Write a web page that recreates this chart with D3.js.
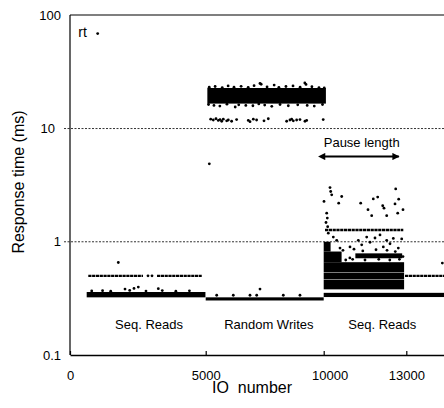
<!DOCTYPE html>
<html>
<head>
<meta charset="utf-8">
<script src="https://cdn.jsdelivr.net/npm/d3@7"></script>
<style>
	body { margin: 0; background: white; }
	text { font-family: "Liberation Sans", Arial, sans-serif; }
</style>
</head>
<body>
<div id="chart"></div>
<script>
// tick labels
var X_TICKS = [0, 5000, 10000, 13000];
var Y_TICKS = [0.1, 1, 10, 100];
var GRID = [1, 10];

// dense runs of points, drawn as filled strips: [ioStart, ioEnd, rtLow, rtHigh]
var DENSE = [
	[615, 4990, 0.323, 0.36],       // seq. reads
	[5000, 10000, 0.303, 0.323],    // random writes, fast ones
	[5070, 10080, 16.6, 22.8],      // random writes, slow ones
	[10000, 15000, 0.325, 0.354],   // seq. reads after pause
	[10000, 12920, 0.38, 0.462],
	[10000, 12920, 0.466, 0.535],
	[10000, 12920, 0.54, 0.66],
	[10000, 10650, 0.66, 0.82],
	[11150, 12850, 0.715, 0.79],
	[10000, 10250, 0.82, 1.0]
];

// rows of separated points, drawn as dotted lines: [ioStart, ioEnd, rt]
var ROWS = [
	[674, 2690, 0.50],
	[3206, 4854, 0.50],
	[10047, 12891, 1.27],
	[12953, 14405, 0.50]
];

// single points: [io, rt]
var POINTS = [
	[1020, 69],
	[1780, 0.656], [2027, 0.382], [2358, 0.387], [2517, 0.398], [3254, 0.385],
	[2874, 0.50], [3022, 0.50],
	[800, 0.368], [1200, 0.37], [1500, 0.366], [2200, 0.372], [2800, 0.367],
	[3400, 0.371], [3900, 0.366], [4400, 0.369],
	[7301, 0.382],
	[5466, 0.337], [6169, 0.337], [6877, 0.337], [7161, 0.337], [8288, 0.337], [8995, 0.337],
	[5153, 4.88],
	[5212, 12.1], [5322, 11.9], [5436, 12.2], [5534, 11.8], [5606, 12.0], [5678, 11.6],
	[5746, 12.1], [5890, 11.7], [5958, 11.9], [6098, 11.6], [6310, 12.0], [6805, 11.8],
	[6878, 11.5], [7018, 12.1], [7157, 11.9], [7470, 11.7], [7652, 12.2], [8430, 11.6],
	[8570, 11.9], [8642, 12.1], [8712, 11.7], [8853, 11.9], [8995, 12.0], [9207, 11.6],
	[9278, 11.8], [9979, 12.0],
	[5150, 23.2], [5400, 23.5], [5700, 23.0], [5950, 23.8], [6200, 23.2], [6500, 23.6],
	[6800, 23.1], [7050, 23.9], [7300, 25.0], [7350, 24.6], [7600, 23.3], [7900, 24.2],
	[8100, 23.1], [8400, 23.5], [8700, 23.8], [9000, 23.2], [9200, 25.3], [9250, 24.5],
	[9500, 23.4], [9800, 23.0], [10020, 22.8],
	[5120, 16.3], [5350, 16.0], [5600, 15.8], [5900, 16.4], [6250, 15.5], [6400, 16.2],
	[6700, 16.0], [7000, 15.9], [7250, 16.5], [7500, 16.1], [7800, 15.7], [8150, 16.3],
	[8500, 15.9], [8900, 16.2], [9300, 16.0], [9600, 15.8], [9950, 16.3],
	[10011, 2.27], [10109, 1.79], [10131, 1.62], [10084, 1.48], [10145, 1.36],
	[10229, 3.01], [10254, 2.78], [10291, 2.6], [10545, 2.19], [10654, 2.51],
	[11344, 2.19], [11609, 1.92], [11743, 1.70], [11801, 2.39], [11961, 2.48],
	[12143, 2.08], [12190, 1.98], [12288, 1.70], [12590, 2.16], [12615, 2.93],
	[12724, 2.38], [12880, 1.92], [12688, 1.79], [12833, 1.06],
	[10167, 1.19], [10349, 1.10], [10472, 1.03], [10592, 0.88], [10955, 0.90],
	[11257, 1.03], [11380, 0.94], [11562, 1.10], [11682, 0.99], [11863, 1.08],
	[12045, 1.15], [12165, 0.90], [12288, 1.03], [12408, 0.96], [12528, 1.07],
	[12710, 0.88], [10700, 0.84], [11100, 0.86], [11420, 0.83], [11900, 0.85],
	[12300, 0.84], [12600, 0.82],
	[10800, 0.69], [10950, 0.72], [11050, 0.70], [11500, 0.69], [12000, 0.70],
	[12400, 0.69], [12750, 0.70], [12880, 0.74],
	[14308, 0.649]
];

// phase labels: [text, io, rt]
var LABELS = [
	["Seq. Reads", 2911, 0.17],
	["Random Writes", 7674, 0.17],
	["Seq. Reads", 12128, 0.17],
	["Pause length", 11380, 6.93]
];
var PAUSE = [10030, 12730, 5.66];

var W = 444, H = 408;
var svg = d3.select("#chart").append("svg")
	.attr("width", W)
	.attr("height", H);

var x = d3.scaleLinear()
	.domain([0, 5000, 10000, 13000, 15000])
	.range([70, 205.7, 323.7, 406.3, 461.4]);
var y = d3.scaleLog()
	.domain([0.1, 100])
	.range([355, 15.3]);

svg.append("clipPath").attr("id", "plot")
	.append("rect")
	.attr("x", 70).attr("y", 15)
	.attr("width", W - 70).attr("height", 340);

// grid
svg.selectAll(".grid").data(GRID).enter().append("line")
	.attr("x1", 64).attr("x2", W)
	.attr("y1", d => y(d)).attr("y2", d => y(d))
	.attr("stroke", "#333")
	.attr("stroke-width", 1)
	.attr("stroke-dasharray", "2,1.5");

var marks = svg.append("g").attr("clip-path", "url(#plot)");

marks.selectAll(".dense").data(DENSE).enter().append("rect")
	.attr("x", d => x(d[0]))
	.attr("width", d => x(d[1]) - x(d[0]))
	.attr("y", d => y(d[3]))
	.attr("height", d => y(d[2]) - y(d[3]))
	.attr("fill", "black");

marks.selectAll(".row").data(ROWS).enter().append("line")
	.attr("x1", d => x(d[0])).attr("x2", d => x(d[1]))
	.attr("y1", d => y(d[2])).attr("y2", d => y(d[2]))
	.attr("stroke", "black")
	.attr("stroke-width", 2.4)
	.attr("stroke-dasharray", "3.2,0.6");

marks.selectAll(".pt").data(POINTS).enter().append("circle")
	.attr("cx", d => x(d[0]))
	.attr("cy", d => y(d[1]))
	.attr("r", 1.4)
	.attr("fill", "black");

// frame
svg.append("line")
	.attr("x1", 70).attr("x2", W)
	.attr("y1", 15).attr("y2", 15)
	.attr("stroke", "black").attr("stroke-width", 1.2);
svg.append("line")
	.attr("x1", 70).attr("x2", 70)
	.attr("y1", 15).attr("y2", 355)
	.attr("stroke", "black").attr("stroke-width", 1.2);

// axes
var xNudge = {10000: 6};
var xAxis = svg.append("g")
	.attr("transform", "translate(0,355)")
	.call(d3.axisBottom(x).tickValues(X_TICKS).tickSizeInner(-4).tickSizeOuter(0).tickPadding(16).tickFormat(d => d));
xAxis.select(".domain").attr("stroke-width", 1.6);
xAxis.selectAll(".tick line").attr("stroke-width", 1.2);
xAxis.selectAll(".tick text")
	.attr("font-size", 13)
	.attr("font-family", "\"Liberation Sans\", Arial, sans-serif")
	.attr("fill", "black")
	.attr("dx", d => xNudge[d] || 0);

var yNudge = {10: -6};
var yAxis = svg.append("g")
	.attr("transform", "translate(70,0)")
	.call(d3.axisLeft(y).tickValues(Y_TICKS).tickSize(0).tickPadding(9).tickFormat(d => d));
yAxis.select(".domain").remove();
yAxis.selectAll(".tick text")
	.attr("font-size", 13)
	.attr("font-family", "\"Liberation Sans\", Arial, sans-serif")
	.attr("fill", "black")
	.attr("dx", d => yNudge[d] || 0);

// titles
svg.append("text")
	.attr("transform", "translate(24," + 182 + ") rotate(-90)")
	.attr("text-anchor", "middle")
	.attr("font-size", 16)
	.text("Response time (ms)");
svg.append("text")
	.attr("x", 252).attr("y", 393)
	.attr("text-anchor", "middle")
	.attr("font-size", 16)
	.style("white-space", "pre")
	.text("IO  number");

svg.append("text")
	.attr("x", x(306)).attr("y", y(64.1))
	.attr("font-size", 14)
	.text("rt");

svg.selectAll(".lbl").data(LABELS).enter().append("text")
	.attr("x", d => x(d[1]))
	.attr("y", d => y(d[2]))
	.attr("text-anchor", "middle")
	.attr("font-size", 13)
	.text(d => d[0]);

// pause arrow
var defs = svg.append("defs");
["start", "end"].forEach(function(k) {
	defs.append("marker")
		.attr("id", "arr-" + k)
		.attr("viewBox", "0 0 10 10")
		.attr("refX", k == "end" ? 9 : 1).attr("refY", 5)
		.attr("markerWidth", 4.5).attr("markerHeight", 3.6)
		.attr("markerUnits", "strokeWidth")
		.attr("orient", "auto-start-reverse")
		.append("path")
		.attr("d", "M0,0L10,5L0,10z")
		.attr("fill", "black");
});
svg.append("line")
	.attr("x1", x(PAUSE[0])).attr("x2", x(PAUSE[1]))
	.attr("y1", y(PAUSE[2])).attr("y2", y(PAUSE[2]))
	.attr("stroke", "black")
	.attr("stroke-width", 2)
	.attr("marker-start", "url(#arr-start)")
	.attr("marker-end", "url(#arr-end)");
</script>
</body>
</html>
